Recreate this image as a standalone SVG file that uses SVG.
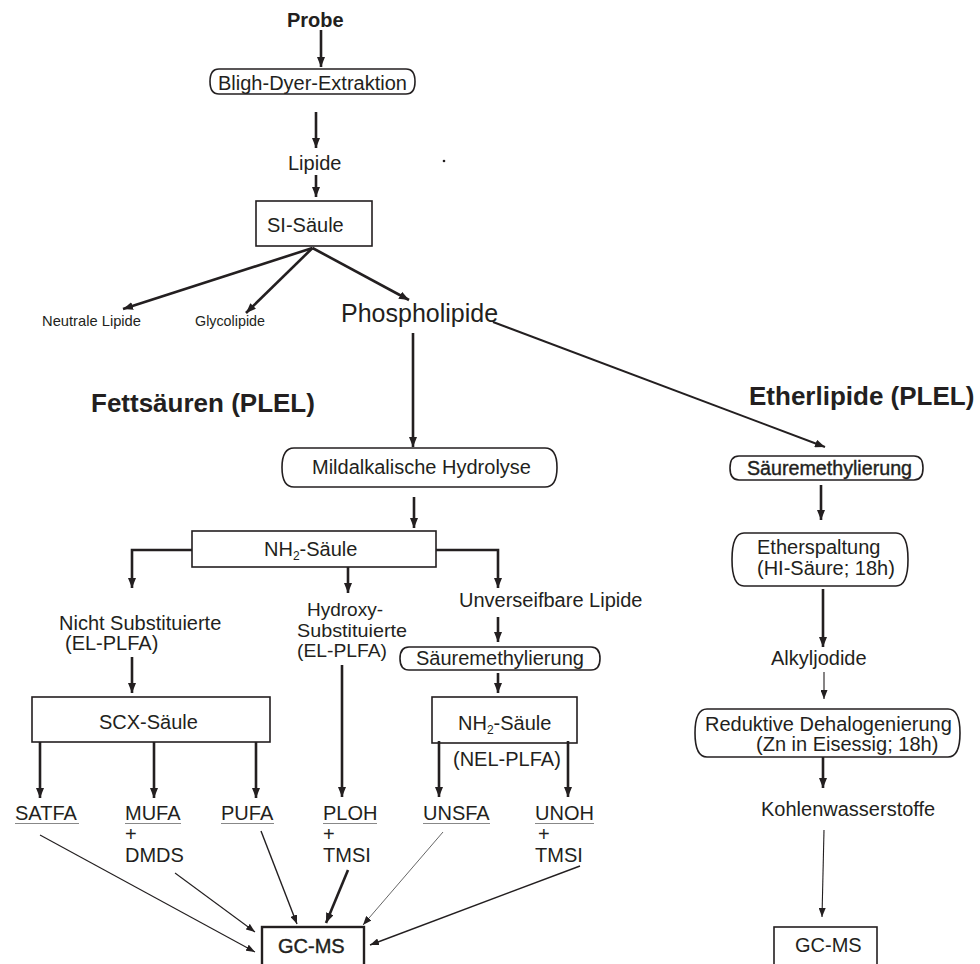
<svg xmlns="http://www.w3.org/2000/svg" width="980" height="964" viewBox="0 0 980 964">
<style>
text{font-family:"Liberation Sans",Arial,Helvetica,sans-serif;font-size:20px;fill:#231f20}
.b{font-weight:bold}
.box{fill:#fff;stroke:#231f20;stroke-width:1.6}
.c{fill:none;stroke:#231f20;stroke-width:2.6}
.t{fill:none;stroke:#231f20;stroke-width:1.1}
.ul{stroke:#888;stroke-width:1}
</style>
<defs>
<marker id="ah" viewBox="0 0 10 8" refX="10" refY="4" markerWidth="10" markerHeight="8" markerUnits="userSpaceOnUse" orient="auto"><path d="M0,0 L10,4 L0,8 Z" fill="#231f20"/></marker>
<marker id="as" viewBox="0 0 9 7" refX="9" refY="3.5" markerWidth="9" markerHeight="7" markerUnits="userSpaceOnUse" orient="auto"><path d="M0,0 L9,3.5 L0,7 Z" fill="#231f20"/></marker>
</defs>
<rect width="980" height="964" fill="#fff"/>

<g id="probe"><text class="b" x="287" y="27">Probe</text></g>
<g id="bligh"><path class="box" d="M219,69 H406 Q415,69 415,81.5 Q415,94 406,94 H219 Q210,94 210,81.5 Q210,69 219,69 Z"/><text x="218" y="90">Bligh-Dyer-Extraktion</text></g>
<g id="lipide"><text x="288" y="170">Lipide</text></g>
<g id="dot"><circle cx="444" cy="161" r="1.3" fill="#231f20"/></g>
<g id="si"><rect class="box" x="256" y="201" width="116" height="45"/><text x="267" y="232">SI-Säule</text></g>
<g id="neutrale"><text x="42" y="326" style="font-size:15px" textLength="99" lengthAdjust="spacingAndGlyphs">Neutrale Lipide</text></g>
<g id="glyco"><text x="195" y="326" style="font-size:15px" textLength="70" lengthAdjust="spacingAndGlyphs">Glycolipide</text></g>
<g id="phospho"><text x="341" y="322" style="font-size:25px">Phospholipide</text></g>
<g id="fett"><text class="b" x="91" y="412" style="font-size:26px">Fettsäuren (PLEL)</text></g>
<g id="ether"><text class="b" x="749" y="405" style="font-size:26px">Etherlipide (PLEL)</text></g>
<g id="mild"><path class="box" d="M294,448 H545 Q557,448 557,467.5 Q557,487 545,487 H294 Q282,487 282,467.5 Q282,448 294,448 Z"/><text x="312" y="474">Mildalkalische Hydrolyse</text></g>
<g id="saeure1"><path class="box" d="M739,456 H914 Q923,456 923,468 Q923,480 914,480 H739 Q730,480 730,468 Q730,456 739,456 Z"/><text x="747" y="475" textLength="165" lengthAdjust="spacingAndGlyphs" style="stroke:#231f20;stroke-width:0.4">Säuremethylierung</text></g>
<g id="nh2a"><rect class="box" x="192" y="531" width="244" height="36"/><text x="264" y="556">NH<tspan style="font-size:12px" dy="4">2</tspan><tspan dy="-4">-Säule</tspan></text></g>
<g id="etherspalt"><path class="box" d="M744,533 H896 Q908,533 908,559.5 Q908,586 896,586 H744 Q732,586 732,559.5 Q732,533 744,533 Z"/><text x="757" y="554">Etherspaltung</text><text x="757" y="575">(HI-Säure; 18h)</text></g>
<g id="nicht"><text x="59" y="630">Nicht Substituierte</text><text x="65" y="650">(EL-PLFA)</text></g>
<g id="hydroxy"><text x="307" y="616" style="font-size:19px">Hydroxy-</text><text x="297" y="637" style="font-size:19px" textLength="110" lengthAdjust="spacingAndGlyphs">Substituierte</text><text x="297" y="657" style="font-size:19px" textLength="90" lengthAdjust="spacingAndGlyphs">(EL-PLFA)</text></g>
<g id="unverseif"><text x="459" y="607">Unverseifbare Lipide</text></g>
<g id="saeure2"><path class="box" d="M409,647 H591 Q600,647 600,658.5 Q600,670 591,670 H409 Q400,670 400,658.5 Q400,647 409,647 Z"/><text x="416" y="665">Säuremethylierung</text></g>
<g id="alkyl"><text x="771" y="665">Alkyljodide</text></g>
<g id="scx"><rect class="box" x="32" y="697" width="238" height="45"/><text x="99" y="729">SCX-Säule</text></g>
<g id="nh2b"><rect class="box" x="432" y="697" width="145" height="46"/><text x="458" y="730">NH<tspan style="font-size:12px" dy="4">2</tspan><tspan dy="-4">-Säule</tspan></text><text x="453" y="766">(NEL-PLFA)</text></g>
<g id="reduktiv"><path class="box" d="M707,709 H948 Q960,709 960,733 Q960,757 948,757 H707 Q695,757 695,733 Q695,709 707,709 Z"/><text x="705" y="731">Reduktive Dehalogenierung</text><text x="756" y="751">(Zn in Eisessig; 18h)</text></g>
<g id="kohlen"><text x="761" y="816">Kohlenwasserstoffe</text></g>
<g id="satfa"><text x="15" y="820">SATFA</text><line class="ul" x1="15" y1="823.5" x2="79" y2="823.5"/></g>
<g id="mufa"><text x="125" y="820">MUFA</text><line class="ul" x1="125" y1="823.5" x2="181" y2="823.5"/><text x="125" y="841">+</text><text x="125" y="862">DMDS</text></g>
<g id="pufa"><text x="221" y="820">PUFA</text><line class="ul" x1="221" y1="823.5" x2="274" y2="823.5"/></g>
<g id="ploh"><text x="323" y="820">PLOH</text><line class="ul" x1="323" y1="823.5" x2="377" y2="823.5"/><text x="323" y="841">+</text><text x="323" y="862">TMSI</text></g>
<g id="unsfa"><text x="423" y="820">UNSFA</text><line class="ul" x1="423" y1="823.5" x2="490" y2="823.5"/></g>
<g id="unoh"><text x="535" y="820">UNOH</text><line class="ul" x1="535" y1="823.5" x2="594" y2="823.5"/><text x="538" y="841">+</text><text x="535" y="862">TMSI</text></g>
<g id="gcms1"><rect class="box" style="stroke-width:2.4" x="262" y="927" width="102" height="50"/><text x="278" y="953" style="stroke:#231f20;stroke-width:0.4">GC-MS</text></g>
<g id="gcms2"><rect class="box" x="774" y="927" width="103" height="50"/><text x="795" y="952">GC-MS</text></g>

<g id="connectors">
<line class="c" x1="321" y1="30" x2="321" y2="67" marker-end="url(#ah)"/>
<line class="c" x1="316" y1="112" x2="316" y2="148" marker-end="url(#ah)"/>
<line class="c" x1="316" y1="175" x2="316" y2="197" marker-end="url(#ah)"/>
<line class="c" x1="312.5" y1="248" x2="123" y2="309" marker-end="url(#ah)"/>
<line class="c" x1="312.5" y1="248" x2="246" y2="313" marker-end="url(#ah)"/>
<line class="c" x1="312.5" y1="248" x2="409" y2="300" marker-end="url(#ah)"/>
<line class="c" x1="413" y1="333" x2="413" y2="447" marker-end="url(#ah)"/>
<line class="c" style="stroke-width:2" x1="493" y1="322" x2="825" y2="447" marker-end="url(#ah)"/>
<line class="c" x1="414" y1="497" x2="414" y2="528" marker-end="url(#ah)"/>
<polyline class="c" points="192,550 132,550 132,588" marker-end="url(#ah)"/>
<line class="c" x1="348" y1="567" x2="348" y2="593" marker-end="url(#ah)"/>
<polyline class="c" points="436,550 498,550 498,588" marker-end="url(#ah)"/>
<line class="c" x1="498" y1="617" x2="498" y2="642" marker-end="url(#ah)"/>
<line class="c" x1="498" y1="673" x2="498" y2="693" marker-end="url(#ah)"/>
<line class="c" x1="132" y1="657" x2="132" y2="693" marker-end="url(#ah)"/>
<line class="c" x1="342" y1="665" x2="342" y2="797" marker-end="url(#ah)"/>
<line class="c" x1="40" y1="742" x2="40" y2="798" marker-end="url(#ah)"/>
<line class="c" x1="154" y1="742" x2="154" y2="798" marker-end="url(#ah)"/>
<line class="c" x1="256" y1="742" x2="256" y2="798" marker-end="url(#ah)"/>
<line class="c" x1="439" y1="741" x2="439" y2="797" marker-end="url(#ah)"/>
<line class="c" x1="568" y1="741" x2="568" y2="797" marker-end="url(#ah)"/>
<line class="c" x1="821" y1="485" x2="821" y2="520" marker-end="url(#ah)"/>
<line class="c" x1="823" y1="589" x2="823" y2="647" marker-end="url(#ah)"/>
<line class="t" x1="824" y1="672" x2="824" y2="699" marker-end="url(#as)"/>
<line class="c" x1="823" y1="757" x2="823" y2="788" marker-end="url(#ah)"/>
<line class="t" x1="824" y1="830" x2="822" y2="917" marker-end="url(#as)"/>
<line class="c" x1="348" y1="870" x2="326" y2="923" marker-end="url(#ah)"/>
<line class="t" x1="40" y1="835" x2="255" y2="952" marker-end="url(#as)"/>
<line class="t" x1="175" y1="873" x2="255" y2="932" marker-end="url(#as)"/>
<line class="t" style="stroke-width:1.4" x1="261" y1="831" x2="297" y2="924" marker-end="url(#as)"/>
<line class="t" style="stroke:#555;stroke-width:0.9" x1="443" y1="832" x2="363" y2="925" marker-end="url(#as)"/>
<line class="t" style="stroke-width:1.4" x1="580" y1="866" x2="370" y2="945" marker-end="url(#as)"/>
</g>
</svg>
